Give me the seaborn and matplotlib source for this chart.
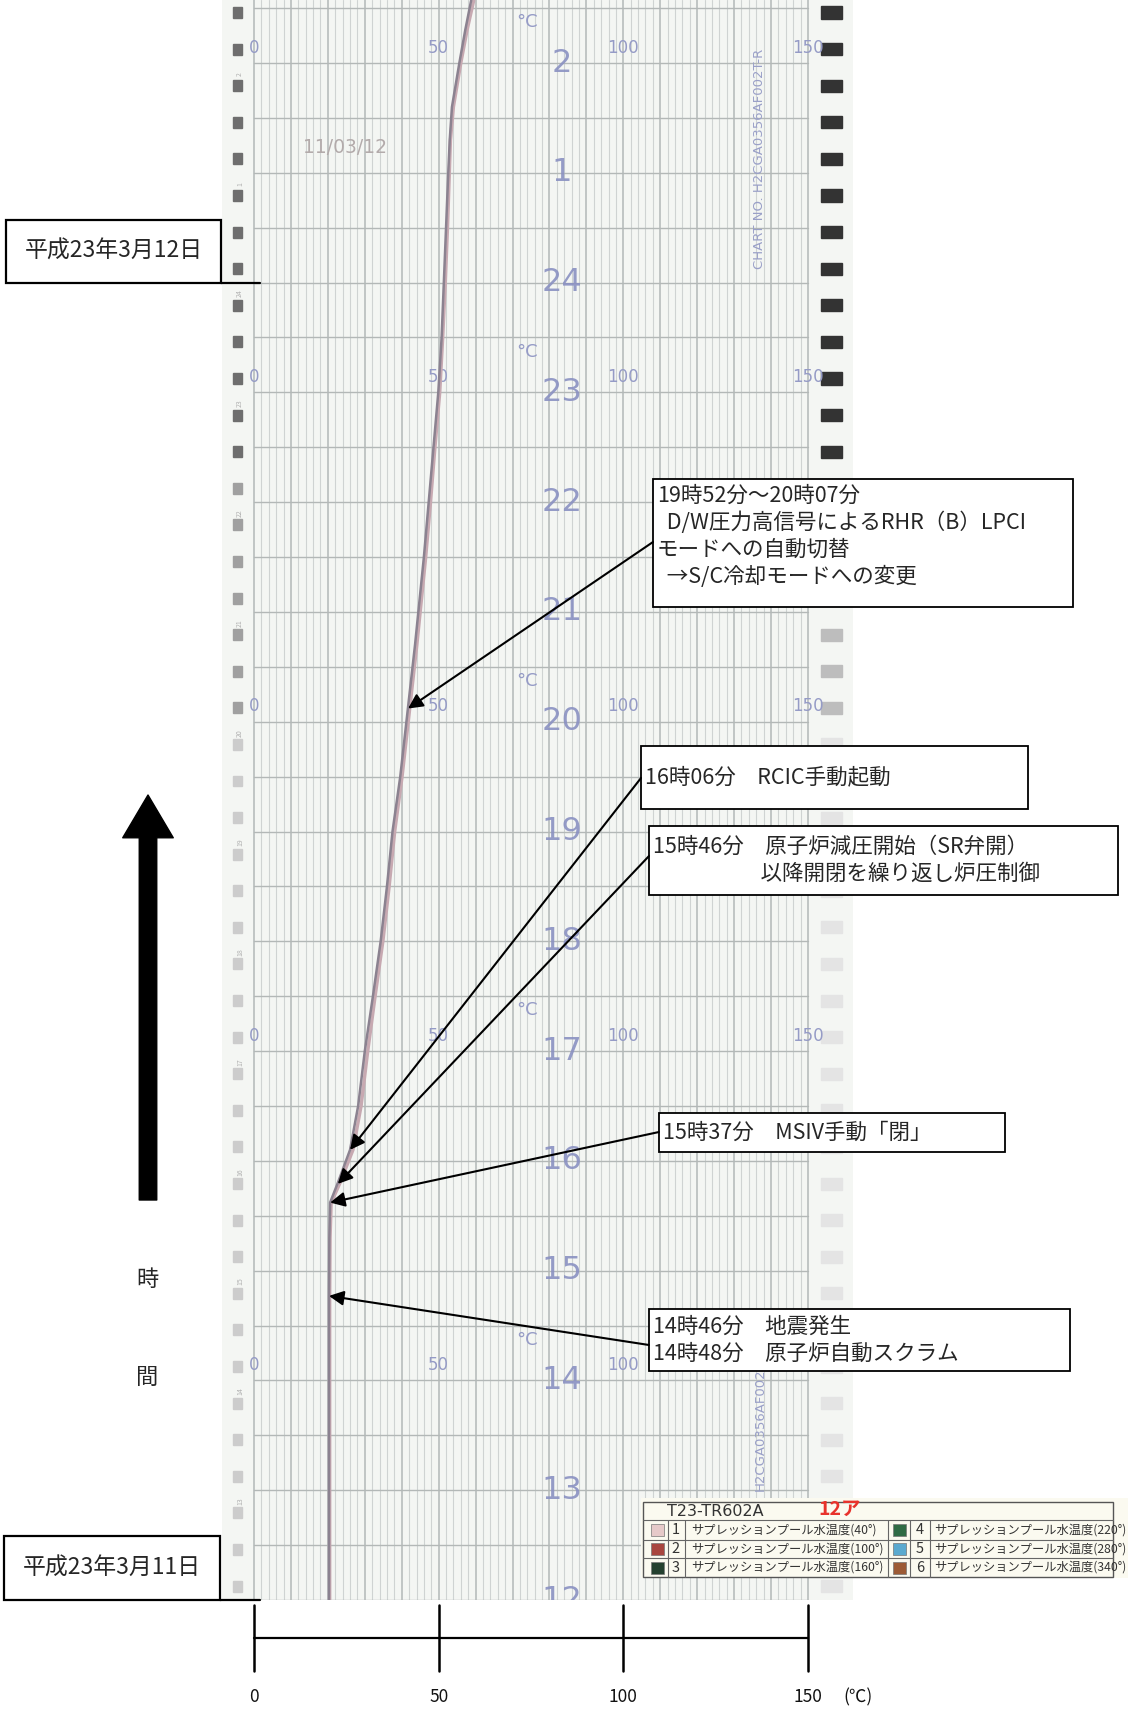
import numpy as np
import matplotlib
matplotlib.use("Agg")
import matplotlib.pyplot as plt
from matplotlib.patches import Rectangle
import seaborn as sns

sns.set_theme(style="white")
plt.rcParams["font.family"] = ["Noto Sans CJK JP", "DejaVu Sans"]

W, H = 1128, 1711

# chart paper: hours of 3/11 (24+ = 3/12), temperature in degC
tr_hour = [12.0, 14.77, 15.3, 15.62, 15.8, 16.1, 16.5, 17.0, 17.5, 18.0, 18.5, 19.0,
           19.5, 20.13, 20.7, 21.0, 21.5, 22.0, 22.5, 23.0, 23.5, 24.0, 24.5, 25.0,
           25.3, 25.6, 26.0, 26.3, 26.57]
tr_ch1 = [20.3, 20.3, 20.4, 20.6, 22.7, 26.0, 28.2, 30.0, 32.2, 34.3, 36.0, 37.5,
          39.6, 41.7, 43.6, 44.5, 46.0, 47.3, 48.6, 49.9, 50.8, 51.4, 52.0, 52.6,
          53.0, 53.6, 55.6, 57.2, 58.8]
tr_ch2 = [20.5, 20.5, 20.6, 20.9, 23.3, 26.8, 29.0, 30.8, 32.8, 34.9, 36.6, 38.1,
          40.1, 42.2, 44.1, 45.0, 46.5, 47.8, 49.0, 50.3, 51.1, 51.8, 52.4, 52.9,
          53.2, 54.0, 56.0, 57.7, 59.5]

hour_ticks = [26, 25, 24, 23, 22, 21, 20, 19, 18, 17, 16, 15, 14, 13, 12]
hour_labels = ["2", "1", "24", "23", "22", "21", "20", "19", "18", "17", "16", "15", "14", "13", "12"]
scale_hours = [26, 23, 20, 17, 14]
scale_vals = [0, 50, 100, 150]

# events: hour, temperature at arrow tip
ev_hour = [20.12, 16.1, 15.79, 15.62, 14.77]
ev_temp = [41.7, 26.0, 22.7, 20.6, 20.3]
ev_text = [
    ["19時52分～20時07分", "  D/W圧力高信号によるRHR（B）LPCI", "モードへの自動切替", "  →S/C冷却モードへの変更"],
    ["16時06分　RCIC手動起動"],
    ["15時46分　原子炉減圧開始（SR弁開）", "　　　　　以降開閉を繰り返し炉圧制御"],
    ["15時37分　MSIV手動「閉」"],
    ["14時46分　地震発生", "14時48分　原子炉自動スクラム"],
]
# box layout in pixels: x0, y0, x1, y1, arrow start x, arrow start y
ev_box = [
    (653, 479, 1073, 607, 653, 542),
    (641, 746, 1028, 809, 641, 778),
    (649, 826, 1118, 895, 649, 856),
    (659, 1113, 1005, 1152, 659, 1132),
    (649, 1309, 1070, 1371, 649, 1345),
]

leg_num = ["1", "2", "3", "4", "5", "6"]
leg_name = ["サプレッションプール水温度(40°)", "サプレッションプール水温度(100°)",
            "サプレッションプール水温度(160°)", "サプレッションプール水温度(220°)",
            "サプレッションプール水温度(280°)", "サプレッションプール水温度(340°)"]
leg_col = ["#e6c9c9", "#a8453f", "#24402f", "#2f6b45", "#5aa9cf", "#9c5a35"]

fig = plt.figure(figsize=(W / 100, H / 100), dpi=100)

# ---- recorder paper
ax = fig.add_axes([222 / W, (H - 1600) / H, (853 - 222) / W, 1600 / H])
ax.set_xlim(-8.67, 162.2)
ax.set_ylim(12, 26.574)
ax.set_facecolor("#f4f6f3")
ax.set_xticks([])
ax.set_yticks([])
for s in ax.spines.values():
    s.set_visible(False)

for v in np.arange(0, 151, 2):
    major = v % 10 == 0
    ax.axvline(v, color="#b2b8b7" if major else "#cfd3d2", lw=1.1 if major else 0.8, zorder=1)
for hh in np.arange(12, 26.6, 0.5):
    ax.plot([0, 150], [hh, hh], color="#b3b8b7", lw=1.0, zorder=1)

# perforations
holes = np.arange(26.46, 11.9, -1 / 3)
for hh in holes:
    if hh > 22.4:
        rc, lc = "#333333", "#6e6e6e"
    elif hh > 20.0:
        rc, lc = "#bdbdbd", "#a0a0a0"
    else:
        rc, lc = "#e4e4e4", "#cccccc"
    ax.add_patch(Rectangle((153.6, hh - 0.055), 5.6, 0.11, color=rc, zorder=2))
    ax.add_patch(Rectangle((-5.8, hh - 0.05), 2.5, 0.10, color=lc, zorder=2))

for hh, lab in zip(hour_ticks, hour_labels):
    ax.text(83.3, hh, lab, color="#8a91c2", fontsize=23, ha="center", va="center",
            family="DejaVu Sans", clip_on=True, zorder=3, alpha=0.9)
    ax.text(-3.8, hh - 0.1, lab, color="#b0b0b0", fontsize=5, ha="center", va="center",
            rotation=90, clip_on=True, zorder=3)
for hh in scale_hours:
    for v in scale_vals:
        if hh == 14 and v == 150:
            continue  # hidden under the 14:46 note
        ax.text(v, hh + 0.14, str(v), color="#959bc6", fontsize=12, ha="center", va="center",
                family="DejaVu Sans", zorder=3)
    ax.text(73.9, hh + 0.37, "°C", color="#959bc6", fontsize=13, ha="center", va="center",
            family="DejaVu Sans", zorder=3, clip_on=True)

ax.text(24.6, 25.23, "11/03/12", color="#b3abab", fontsize=13.5, ha="center", va="center",
        family="DejaVu Sans", zorder=3)
ax.text(137, 25.13, "CHART NO. H2CGA0356AF002T-R", color="#9aa0c8", fontsize=9.5,
        rotation=90, ha="center", va="center", family="DejaVu Sans", zorder=3)
ax.text(137, 13.55, "H2CGA0356AF002", color="#9aa0c8", fontsize=9.5,
        rotation=90, ha="center", va="center", family="DejaVu Sans", zorder=3)

sns.lineplot(x=tr_ch2, y=tr_hour, sort=False, estimator=None, ax=ax,
             color="#c7a9b1", lw=2.4, zorder=4)
sns.lineplot(x=tr_ch1, y=tr_hour, sort=False, estimator=None, ax=ax,
             color="#8b8290", lw=1.8, zorder=5)

# ---- bottom scale
bx = fig.add_axes([222 / W, 0, (853 - 222) / W, (H - 1600) / H])
bx.set_xlim(-8.67, 162.2)
bx.set_ylim(1711, 1600)
bx.axis("off")
bx.plot([scale_vals[0], scale_vals[-1]], [1638, 1638], color="black", lw=1.6)
for v in scale_vals:
    bx.plot([v, v], [1605, 1671], color="black", lw=1.8)
    bx.text(v, 1697, str(v), fontsize=12.5, ha="center", va="center", color="#111111")
bx.text(163.5, 1697, "(℃)", fontsize=12.5, ha="center", va="center", color="#111111", clip_on=False)

# ---- annotations overlay (pixel coordinates)
ov = fig.add_axes([0, 0, 1, 1], zorder=10)
ov.set_xlim(0, W)
ov.set_ylim(H, 0)
ov.axis("off")
ov.patch.set_visible(False)

for (x0, y0, x1, y1), lab in [((6, 220, 221, 283), "平成23年3月12日"),
                              ((4, 1536, 220, 1600), "平成23年3月11日")]:
    ov.add_patch(Rectangle((x0, y0), x1 - x0, y1 - y0, fc="white", ec="black", lw=1.6))
    ov.plot([x1, 260], [y1, y1], color="black", lw=1.6)
    ov.text((x0 + x1) / 2, (y0 + y1) / 2, lab, fontsize=16.5, ha="center", va="center")

for hh, tt, lines, bb in zip(ev_hour, ev_temp, ev_text, ev_box):
    x0, y0, x1, y1, sx, sy = bb
    ov.add_patch(Rectangle((x0, y0), x1 - x0, y1 - y0, fc="white", ec="black", lw=1.3))
    n = len(lines)
    step = 27.0
    top = (y0 + y1) / 2 - step * (n - 1) / 2 if n < 4 else y0 + 17
    for i, ln in enumerate(lines):
        ov.text(x0 + 4, top + i * step, ln, fontsize=15.5, ha="left", va="center")
    ov.annotate("", xy=(tt, hh), xycoords=ax.transData, xytext=(sx, sy), textcoords=ov.transData,
                arrowprops=dict(arrowstyle="-|>", color="black", lw=1.5, mutation_scale=22,
                                shrinkA=0, shrinkB=0))

# time arrow
ov.annotate("", xy=(148, 795), xytext=(148, 1200),
            arrowprops=dict(arrowstyle="simple,head_width=2.6,head_length=2.2,tail_width=0.9",
                            color="black", mutation_scale=14, shrinkA=0, shrinkB=0))
ov.text(147, 1280, "時", fontsize=16, ha="center", va="center")
ov.text(147, 1377, "間", fontsize=16, ha="center", va="center")

# channel table
ov.add_patch(Rectangle((641, 1498), 487, 80, fc="#fbfaf0", ec="none"))
ov.add_patch(Rectangle((643, 1502), 470, 75, fc="none", ec="#555555", lw=1.0))
ov.text(667, 1511, "T23-TR602A", fontsize=11.5, ha="left", va="center", color="#333333",
        family="DejaVu Sans")
ov.text(818, 1509, "12ア", fontsize=14, ha="left", va="center", color="#e8322c",
        fontweight="bold", style="italic")
for yy in [1520, 1540, 1558]:
    ov.plot([643, 1113], [yy, yy], color="#666666", lw=0.8)
for xx in [668, 685, 888, 910, 930]:
    ov.plot([xx, xx], [1520, 1577], color="#666666", lw=0.8)
row_y = [1530, 1549, 1567.5]
for i, (num, name, col) in enumerate(zip(leg_num, leg_name, leg_col)):
    c, r = divmod(i, 3)
    sx = 651 if c == 0 else 893
    ov.add_patch(Rectangle((sx, row_y[r] - 6), 13, 12, fc=col, ec="#777777", lw=0.5))
    ov.text(676 if c == 0 else 920, row_y[r], num, fontsize=10.5, ha="center", va="center",
            color="#333333")
    ov.text(691 if c == 0 else 934, row_y[r], name, fontsize=8.8, ha="left", va="center",
            color="#333333")

fig.savefig("out.png", dpi=100)
